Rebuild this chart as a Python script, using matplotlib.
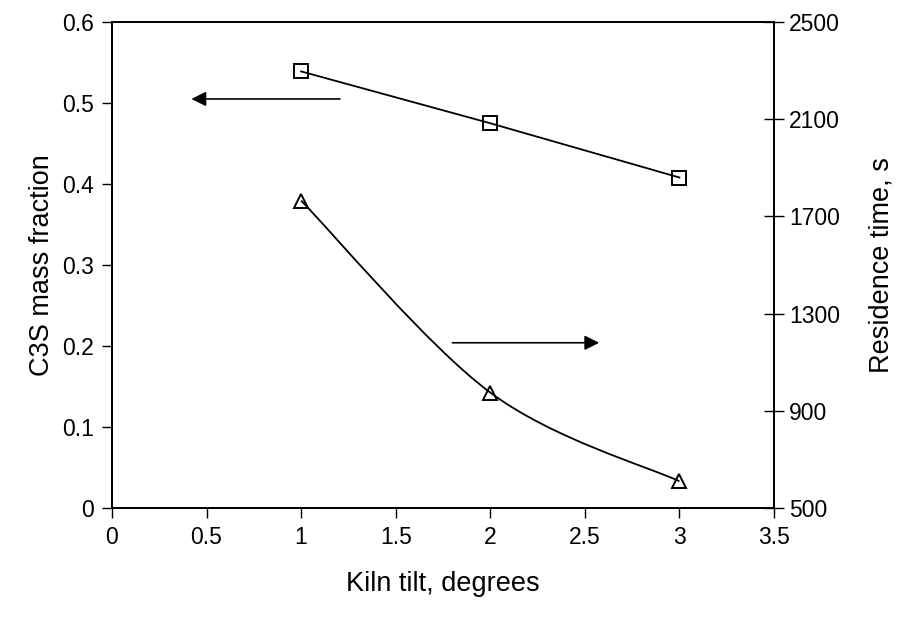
import numpy as np
import matplotlib
matplotlib.use("Agg")
import matplotlib.pyplot as plt
from matplotlib.path import Path
from matplotlib.patches import PathPatch

plt.rcParams['font.family'] = ['Liberation Sans', 'DejaVu Sans']

# data
tilt = [1, 2, 3]
c3s_fraction = [0.539, 0.475, 0.408]
residence_time = [1765, 975, 610]

x_ticks = [0, 0.5, 1, 1.5, 2, 2.5, 3, 3.5]
left_ticks = [0, 0.1, 0.2, 0.3, 0.4, 0.5, 0.6]
right_ticks = [500, 900, 1300, 1700, 2100, 2500]


def smooth_path(xs, ys):
    # excel style smoothed line: bezier segments, catmull-rom control points
    p = np.column_stack([xs, ys]).astype(float)
    ext = np.vstack([p[0], p, p[-1]])
    verts = [p[0]]
    codes = [Path.MOVETO]
    for i in range(len(p) - 1):
        c1 = ext[i + 1] + (ext[i + 2] - ext[i]) / 6
        c2 = ext[i + 2] - (ext[i + 3] - ext[i + 1]) / 6
        verts += [c1, c2, ext[i + 2]]
        codes += [Path.CURVE4] * 3
    return Path(verts, codes)


fig = plt.figure(figsize=(9, 6.27), dpi=100)
ax = fig.add_axes([0.1244, 0.1898, 0.7356, 0.7751])
ax2 = ax.twinx()

ax.plot(tilt, c3s_fraction, color='k', lw=1.3, marker='s', ms=10,
        mfc='none', mec='k', mew=1.4)

ax2.add_patch(PathPatch(smooth_path(tilt, residence_time), fc='none', ec='k', lw=1.3))
ax2.plot(tilt, residence_time, ls='none', marker='^', ms=10,
         mfc='none', mec='k', mew=1.4)

# arrows pointing at the matching axes
ax.annotate('', xy=(0.42, 0.505), xytext=(1.205, 0.505),
            arrowprops=dict(arrowstyle='-|>', color='k', lw=1.2,
                            mutation_scale=22, shrinkA=0, shrinkB=0))
ax2.annotate('', xy=(2.576, 1180), xytext=(1.80, 1180),
             arrowprops=dict(arrowstyle='-|>', color='k', lw=1.2,
                             mutation_scale=22, shrinkA=0, shrinkB=0))

ax.set_xlim(0, 3.5)
ax.set_ylim(0, 0.6)
ax2.set_ylim(500, 2500)
ax.set_xticks(x_ticks)
ax.set_xticklabels([f'{v:g}' for v in x_ticks])
ax.set_yticks(left_ticks)
ax.set_yticklabels([f'{v:g}' for v in left_ticks])
ax2.set_yticks(right_ticks)

ax.tick_params(axis='x', direction='out', length=7, width=1, labelsize=16.5, pad=6)
ax.tick_params(axis='y', direction='out', length=7, width=1, labelsize=16.5, pad=6)
ax2.tick_params(axis='y', direction='inout', length=14, width=1, labelsize=16.5, pad=4)

for a in (ax, ax2):
    for s in a.spines.values():
        s.set_linewidth(1.3)

ax.set_xlabel('Kiln tilt, degrees', fontsize=19.5, labelpad=16)
ax.set_ylabel('C3S mass fraction', fontsize=19.5, labelpad=5)
ax2.set_ylabel('Residence time, s', fontsize=19.5, labelpad=20)

fig.savefig('out.png', dpi=100)
